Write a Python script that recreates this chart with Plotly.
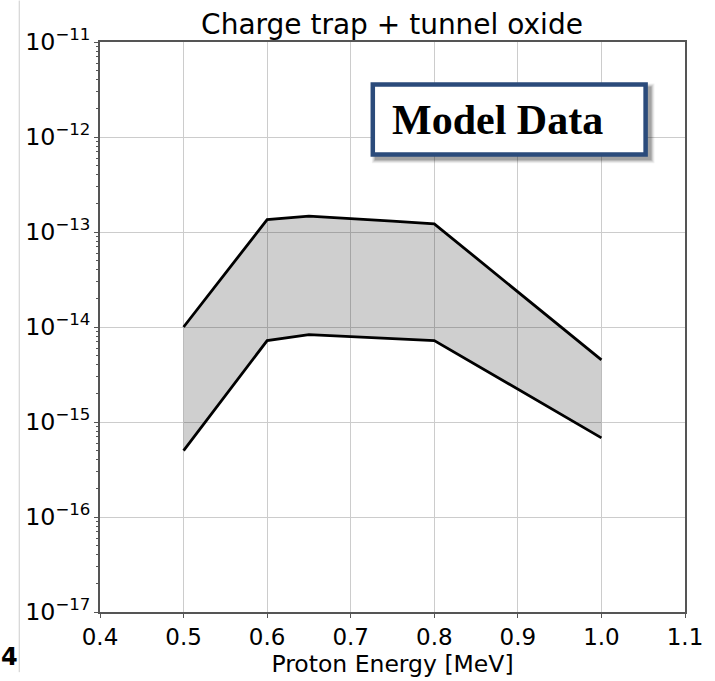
import plotly.graph_objects as go

# Data
energy = [0.5, 0.6, 0.65, 0.7, 0.75, 0.8, 1.0]
upper = [1.0e-14, 1.35e-13, 1.47e-13, 1.39e-13, 1.30e-13, 1.22e-13, 4.5e-15]
lower = [5.0e-16, 7.2e-15, 8.3e-15, 7.9e-15, 7.5e-15, 7.2e-15, 6.8e-16]
x_ticks = [0.4, 0.5, 0.6, 0.7, 0.8, 0.9, 1.0, 1.1]
title_text = "Charge trap + tunnel oxide"
x_title = "Proton Energy [MeV]"
box_text = "Model Data"

W, H = 715, 681
ML, MR, MT, MB = 100, 21, 42, 61
PW, PH = W - ML - MR, H - MT - MB

def px(xp):
    return (xp - ML) / PW

def py(yp):
    return (H - MB - yp) / PH

fig = go.Figure()
fig.add_trace(go.Scatter(x=energy, y=lower, mode="lines",
                         line=dict(color="black", width=2.8), showlegend=False))
fig.add_trace(go.Scatter(x=energy, y=upper, mode="lines", fill="tonexty",
                         fillcolor="rgba(0,0,0,0.19)",
                         line=dict(color="black", width=2.8), showlegend=False))

font = "DejaVu Sans"
fig.update_layout(
    width=W, height=H,
    margin=dict(l=ML, r=MR, t=MT, b=MB),
    paper_bgcolor="white", plot_bgcolor="white",
    title=dict(text=title_text, x=px(396.5), xref="paper", xanchor="center",
               y=1 - 24 / H, yref="container", yanchor="middle",
               font=dict(family=font, size=28, color="black")),
    xaxis=dict(range=[0.4, 1.1], tickvals=x_ticks, tickformat=".1f",
               showgrid=True, gridcolor="#cccccc", gridwidth=1,
               showline=True, linecolor="#555555", linewidth=1.5, mirror=True,
               ticks="outside", ticklen=4, tickcolor="#555555",
               tickfont=dict(family=font, size=23, color="black"),
               title=dict(text=x_title, standoff=2,
                          font=dict(family=font, size=23.5, color="black")),
               zeroline=False),
    yaxis=dict(type="log", range=[-17, -11], dtick=1, exponentformat="power",
               showgrid=True, gridcolor="#cccccc", gridwidth=1,
               showline=True, linecolor="#555555", linewidth=1.5, mirror=True,
               ticks="outside", ticklen=4, tickcolor="#555555",
               minor=dict(ticks="outside", ticklen=2, tickcolor="#555555", dtick="D1", showgrid=False),
               tickfont=dict(family=font, size=19, color="black"),
               zeroline=False),
)

# thin vertical line at the far left (crop artifact)
fig.add_shape(type="line", xref="paper", yref="paper",
              x0=px(18), x1=px(18), y0=py(0), y1=py(H),
              line=dict(color="#cccccc", width=1), layer="above")

# Shadow of the box (soft)
for i, a in enumerate([0.06, 0.08, 0.12, 0.16]):
    d = 3 - i
    fig.add_shape(type="rect", xref="paper", yref="paper",
                  x0=px(375 + 4 - d), x1=px(656 + 4 + d), y0=py(158 + 4 + d), y1=py(83 + 4 - d),
                  fillcolor=f"rgba(0,0,0,{a})", line=dict(width=0), layer="above")
# Box
fig.add_shape(type="rect", xref="paper", yref="paper",
              x0=px(377), x1=px(654), y0=py(156), y1=py(85),
              fillcolor="white", line=dict(color="#2b4b7b", width=4.5), layer="above")
fig.add_annotation(text="<b>" + box_text + "</b>", xref="paper", yref="paper",
                   x=px(504), y=py(121), xanchor="center", yanchor="middle",
                   showarrow=False,
                   font=dict(family="Liberation Serif", size=42, color="black"))

# partial figure label at bottom-left
fig.add_annotation(text="<b>4</b>", xref="paper", yref="paper",
                   x=px(-3), y=py(666), xanchor="left", yanchor="middle",
                   showarrow=False, font=dict(family=font, size=24, color="black"))

fig.write_html("out.html")
